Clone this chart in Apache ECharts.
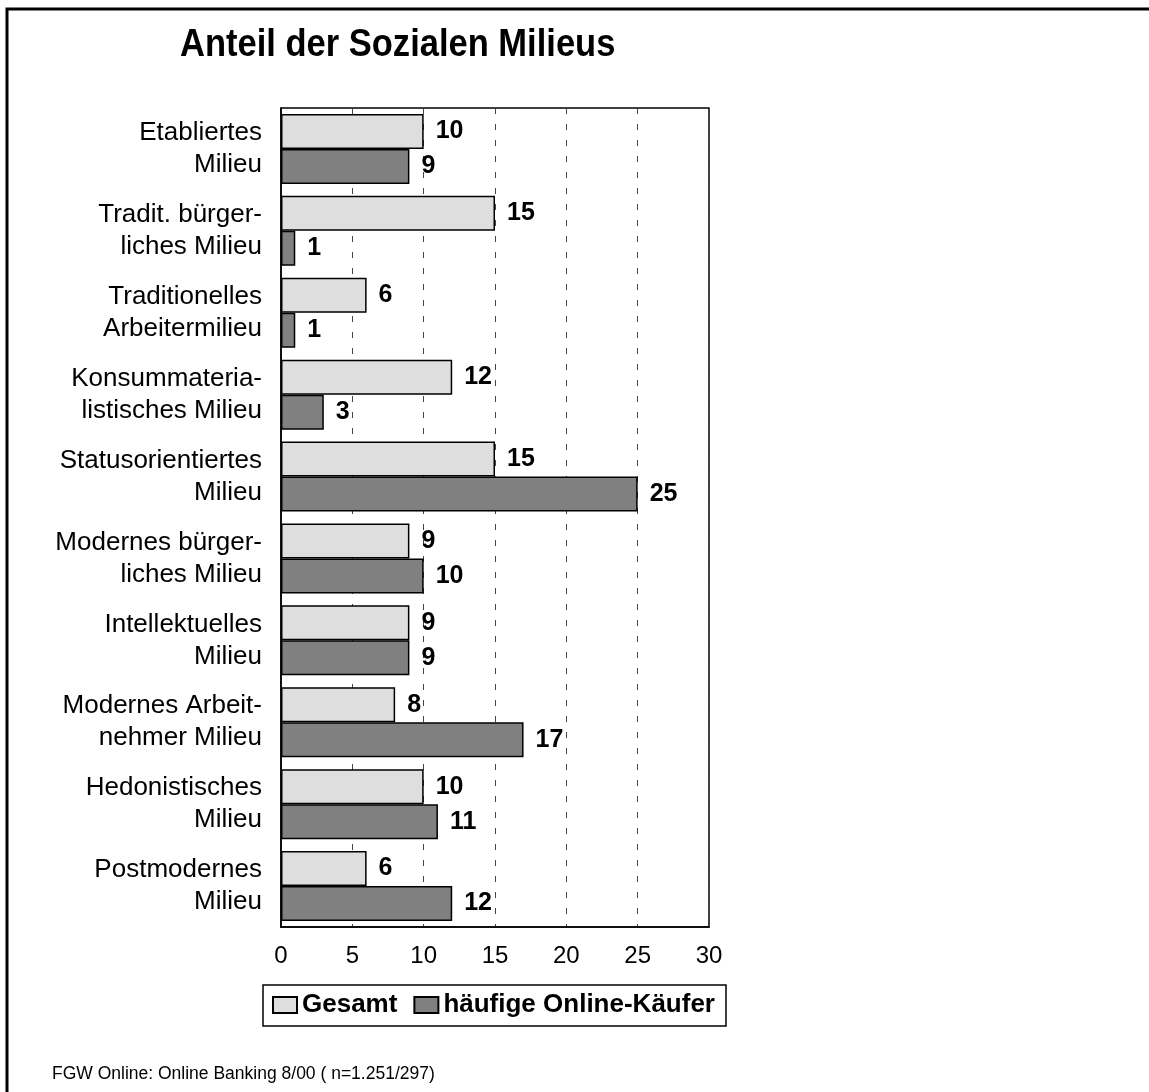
<!DOCTYPE html>
<html>
<head>
<meta charset="utf-8">
<script src="https://cdn.jsdelivr.net/npm/echarts@6/dist/echarts.min.js"></script>
<style>
html,body{margin:0;padding:0;background:#fff;}
#chart{width:1149px;height:1092px;}
</style>
</head>
<body>
<div id="chart"></div>
<script>
const categories = [
  "Etabliertes\nMilieu",
  "Tradit. bürger-\nliches Milieu",
  "Traditionelles\nArbeitermilieu",
  "Konsummateria-\nlistisches Milieu",
  "Statusorientiertes\nMilieu",
  "Modernes bürger-\nliches Milieu",
  "Intellektuelles\nMilieu",
  "Modernes Arbeit-\nnehmer Milieu",
  "Hedonistisches\nMilieu",
  "Postmodernes\nMilieu"
];
const gesamt = [10, 15, 6, 12, 15, 9, 9, 8, 10, 6];
const onlineKaeufer = [9, 1, 1, 3, 25, 10, 9, 17, 11, 12];
const seriesNames = ["Gesamt", "häufige Online-Käufer"];
const titleText = "Anteil der Sozialen Milieus";
const footerText = "FGW Online: Online Banking 8/00 ( n=1.251/297)";

const font = "'Liberation Sans', Arial, sans-serif";
const chart = echarts.init(document.getElementById('chart'));
const labelStyle = {
  show: true, position: 'right', distance: 12,
  fontFamily: font, fontWeight: 'bold', fontSize: 25, color: '#000'
};
chart.setOption({
  backgroundColor: '#fff',
  animation: false,
  title: [{
    text: footerText, left: 47, top: 1060,
    textStyle: { fontFamily: font, fontWeight: 'normal', fontSize: 17.5, color: '#000' }
  }],
  graphic: [{
    type: 'rect', shape: { x: 7, y: 9, width: 1400, height: 1400 },
    style: { fill: 'none', stroke: '#000', lineWidth: 3 }, silent: true
  }, {
    type: 'text', x: 180, y: 45, scaleX: 0.885,
    style: { text: titleText, fontFamily: font, fontWeight: 'bold', fontSize: 39, fill: '#000', textVerticalAlign: 'middle', textAlign: 'left' },
    silent: true
  }, {
    type: 'rect', shape: { x: 263, y: 985, width: 463, height: 41 },
    style: { fill: 'none', stroke: '#000', lineWidth: 1.5 }, silent: true
  }],
  legend: {
    data: seriesNames, left: 272, top: 991,
    orient: 'horizontal', itemWidth: 24, itemHeight: 16, itemGap: 16,
    padding: 0,
    textStyle: { fontFamily: font, fontWeight: 'bold', fontSize: 26, lineHeight: 28, color: '#000' },
    icon: 'rect'
  },
  grid: {
    left: 281, right: 440, top: 108, bottom: 165,
    show: true, borderColor: '#000', borderWidth: 1.5, backgroundColor: 'transparent'
  },
  xAxis: {
    type: 'value', min: 0, max: 30, interval: 5,
    axisLine: { show: true, lineStyle: { color: '#000', width: 1.5 } },
    axisTick: { show: false },
    axisLabel: { fontFamily: font, fontSize: 24, color: '#000', margin: 17 },
    splitLine: { show: true, lineStyle: { color: '#444', width: 1, type: [6, 10] } }
  },
  yAxis: {
    type: 'category', data: categories, inverse: true,
    axisLine: { show: true, lineStyle: { color: '#000', width: 1.5 } },
    axisTick: { show: false },
    axisLabel: { fontFamily: font, fontSize: 26, color: '#000', margin: 19, lineHeight: 32, align: 'right' }
  },
  series: [{
    name: seriesNames[0], type: 'bar', data: gesamt, barWidth: 35, barGap: '0%',
    itemStyle: { color: '#dedede', borderColor: '#000', borderWidth: 1.5 },
    label: labelStyle
  }, {
    name: seriesNames[1], type: 'bar', data: onlineKaeufer, barWidth: 35,
    itemStyle: { color: '#808080', borderColor: '#000', borderWidth: 1.5 },
    label: labelStyle
  }]
});
</script>
</body>
</html>
